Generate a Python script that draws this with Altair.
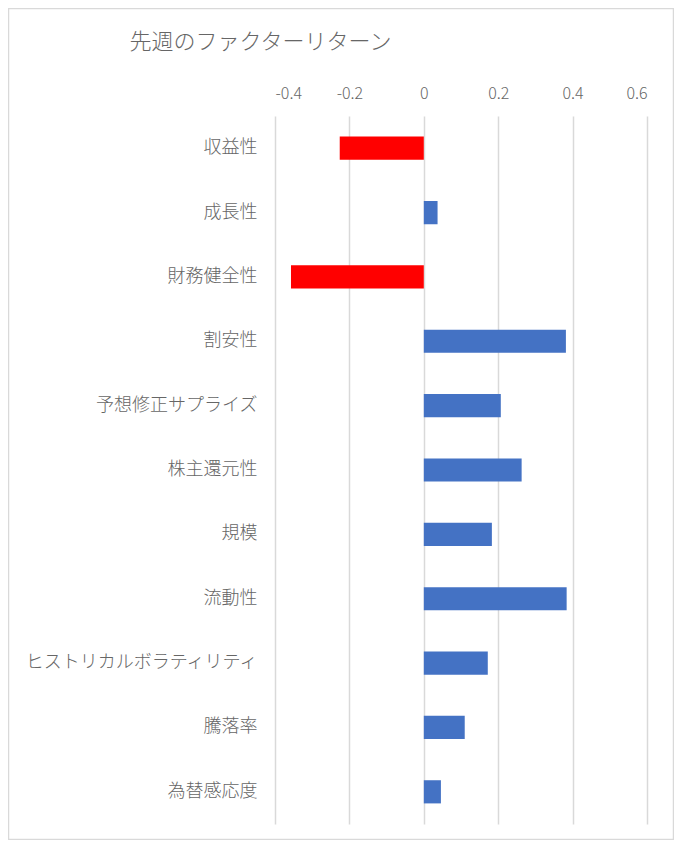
import altair as alt
import pandas as pd

title_text = "先週のファクターリターン"
factors = ["収益性", "成長性", "財務健全性", "割安性", "予想修正サプライズ", "株主還元性",
           "規模", "流動性", "ヒストリカルボラティリティ", "騰落率", "為替感応度"]
values = [-0.226, 0.037, -0.357, 0.382, 0.207, 0.263, 0.183, 0.384, 0.172, 0.110, 0.046]
x_ticks = [-0.4, -0.2, 0, 0.2, 0.4, 0.6]

df = pd.DataFrame({"factor": factors, "value": values})

FONT = "Noto Sans CJK JP"
GRAY = "#666666"

bars = alt.Chart(df).mark_bar().encode(
    y=alt.Y("factor:N", sort=factors, title=None,
            scale=alt.Scale(paddingInner=0.64, paddingOuter=0.32),
            axis=alt.Axis(domain=False, ticks=False, tickSize=0, labelPadding=18,
                          labelFont=FONT, labelFontSize=18, labelFontWeight=300, labelColor=GRAY,
                          labelLimit=400, grid=False)),
    x=alt.X("value:Q", title=None,
            scale=alt.Scale(domain=[-0.4, 0.6], nice=False, zero=False),
            axis=alt.Axis(orient="top", values=x_ticks, domain=False, ticks=False, tickSize=0,
                          labelPadding=18, labelBaseline="alphabetic",
                          labelFont=FONT, labelFontSize=16, labelFontWeight=300, labelColor=GRAY,
                          grid=True, gridColor="#d9d9d9", gridWidth=1.5,
                          labelExpr="datum.value == 0 ? '0' : (datum.value < 0 ? '-' + format(-datum.value, '.1f') : format(datum.value, '.1f'))")),
    color=alt.condition(alt.datum.value < 0, alt.value("#FF0000"), alt.value("#4472C4")),
)

title = alt.Chart(pd.DataFrame({"t": [title_text]})).mark_text(
    font=FONT, fontSize=22, fontWeight=300, color=GRAY, align="center", baseline="middle"
).encode(text="t:N", x=alt.value(-14.5), y=alt.value(-74))

border = alt.Chart(pd.DataFrame({"a": [1]})).mark_rect(
    fill=None, stroke="#d9d9d9", strokeWidth=1.5
).encode(x=alt.value(-266.5), x2=alt.value(398.5), y=alt.value(-107.5), y2=alt.value(723.5))

chart = alt.layer(border, bars, title).properties(
    width=372, height=708,
    autosize=alt.AutoSizeParams(type="none"),
    padding={"left": 267, "top": 108, "right": 27, "bottom": 16},
    background="white",
).configure_view(stroke=None)

chart.save("out.html", embed_options={"renderer": "svg", "actions": False})
